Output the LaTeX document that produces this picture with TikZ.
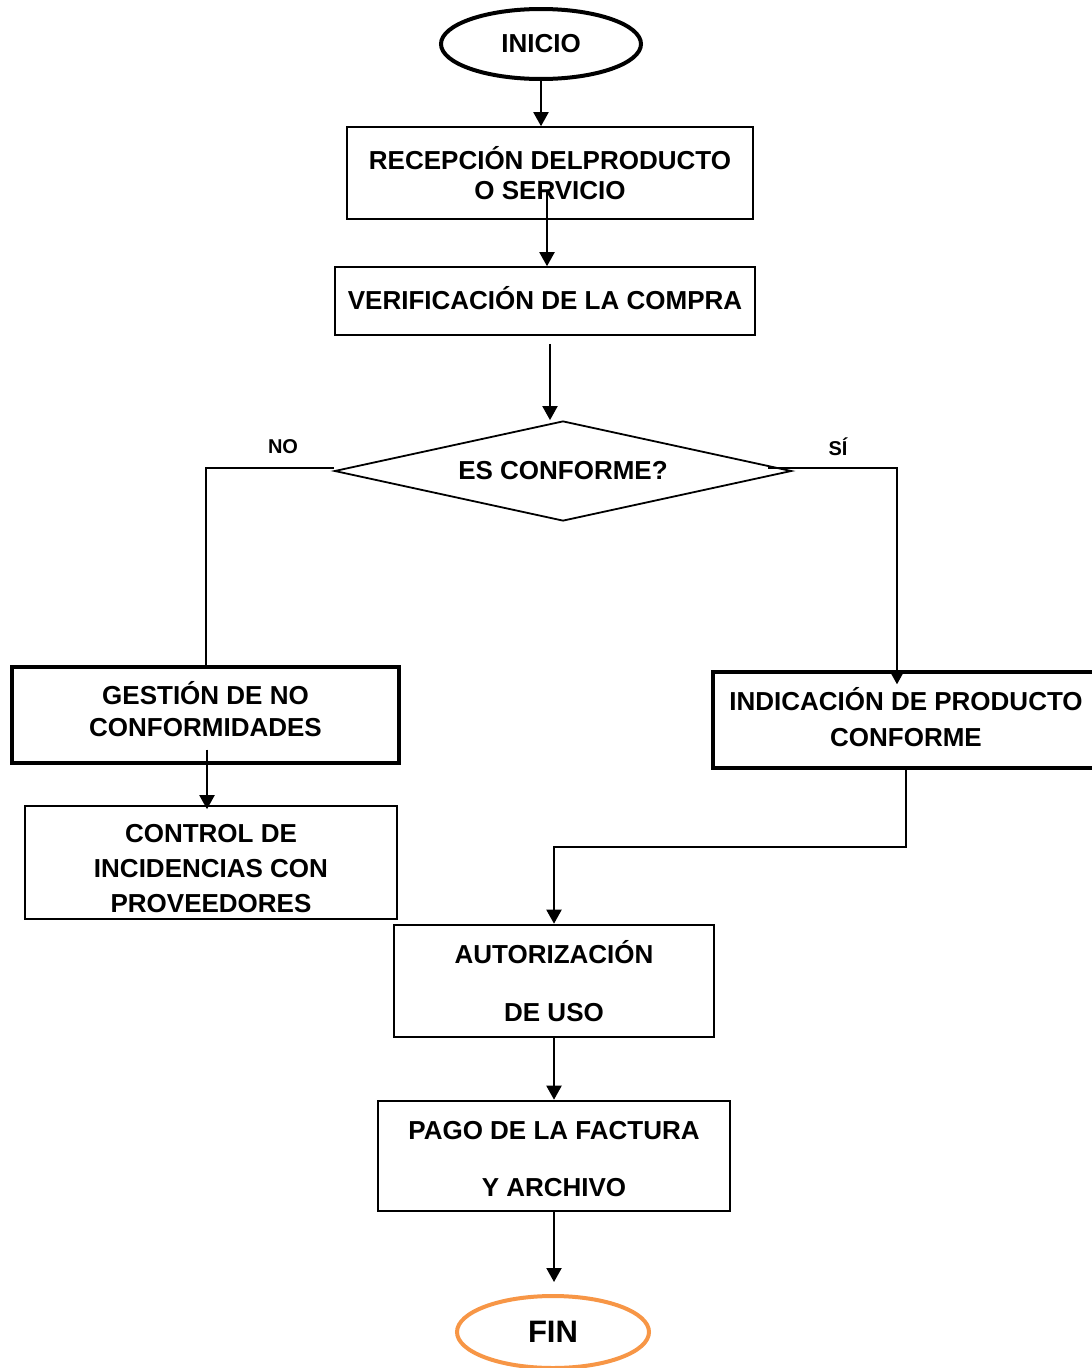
\documentclass[tikz,border=0pt]{standalone}
\usepackage{fontspec}
\setmainfont{Liberation Sans}
\usetikzlibrary{shapes.geometric,arrows.meta,calc}
\definecolor{finorange}{RGB}{247,150,70}
\begin{document}
\begin{tikzpicture}[x=1pt,y=-1pt,
  every node/.style={font=\fontsize{26}{30}\selectfont\bfseries, align=center, inner sep=0pt},
  thinbox/.style={draw, rectangle, line width=1.6pt},
  thickbox/.style={draw, rectangle, line width=3.4pt},
  midbox/.style={draw, rectangle, line width=2.6pt},
  arr/.style={line width=2pt, -{Triangle[width=15pt,length=14pt]}},
  conn/.style={line width=2pt},
  lbl/.style={font=\fontsize{20}{24}\selectfont\bfseries},
]
\useasboundingbox (0,0) rectangle (1092,1368);
\fill[white] (0,0) rectangle (1092,1368);

\node[ellipse, draw, line width=4pt, minimum width=200pt, minimum height=70pt] (inicio) at (541,44) {INICIO};
\node[thinbox, minimum width=406pt, minimum height=92pt] (recep) at (550,173) {RECEPCIÓN DELPRODUCTO\\O SERVICIO};
\node[thinbox, minimum width=420pt, minimum height=68pt, text depth=6pt] (verif) at (545,301) {VERIFICACIÓN DE LA COMPRA};
\node[diamond, draw, line width=1.8pt, minimum width=457pt, minimum height=100pt, aspect=4.57] (dia) at (563,471) {ES CONFORME?};
\node[lbl] (no) at (283,447) {NO};
\node[lbl] (si) at (838,447) {SÍ};

\node[thickbox, minimum width=387pt, minimum height=96pt, font=\fontsize{26}{32}\selectfont\bfseries, text depth=12pt] (gest) at (205.5,715) {GESTIÓN DE NO\\CONFORMIDADES};
\node[thinbox, minimum width=372pt, minimum height=113pt, font=\fontsize{26}{35}\selectfont\bfseries] (ctrl) at (211,862.5) {\rule{0pt}{31pt}CONTROL DE\\INCIDENCIAS CON\\PROVEEDORES};
\node[thickbox, minimum width=386pt, minimum height=96pt, font=\fontsize{26}{36}\selectfont\bfseries, text depth=6pt] (indic) at (906,720) {INDICACIÓN DE PRODUCTO\\CONFORME};
\node[midbox, minimum width=320pt, minimum height=112pt, font=\fontsize{26}{58}\selectfont\bfseries] (autor) at (554,981) {AUTORIZACIÓN\\DE USO};
\node[midbox, minimum width=352pt, minimum height=110pt, font=\fontsize{26}{57}\selectfont\bfseries] (pago) at (554,1156) {\rule{0pt}{25pt}PAGO DE LA FACTURA\\Y ARCHIVO};
\node[ellipse, draw=finorange, line width=4pt, minimum width=192pt, minimum height=72pt, font=\fontsize{31}{36}\selectfont\bfseries] (fin) at (553,1332) {FIN};

% connectors
\coordinate (r1) at ($(recep.center)+(-3,19)$);
\coordinate (v1) at ($(verif.south)+(5,8)$);
\coordinate (g1) at ($(gest.south)+(1.5,-15)$);
\coordinate (s1) at ($(indic.north)+(-9,14)$);
\coordinate (f1) at ($(fin.north)+(0,-12)$);
\draw[arr] (inicio.south) -- (inicio.south |- recep.north);
\draw[arr] (r1) -- (r1 |- verif.north);
\draw[arr] (v1) -- (v1 |- dia.north);
\draw[conn] ($(dia.west)+(0,-3)$) -| (gest.north);
\draw[arr] ($(dia.east)+(-24,-3)$) -| (s1);
\draw[arr] (g1) -- ($(g1 |- ctrl.north)+(0,4)$);
\draw[arr] (indic.south) -- ++(0,77) -| (autor.north);
\draw[arr] (autor.south) -- (autor.south |- pago.north);
\draw[arr] (pago.south) -- (pago.south |- f1);
\end{tikzpicture}
\end{document}
